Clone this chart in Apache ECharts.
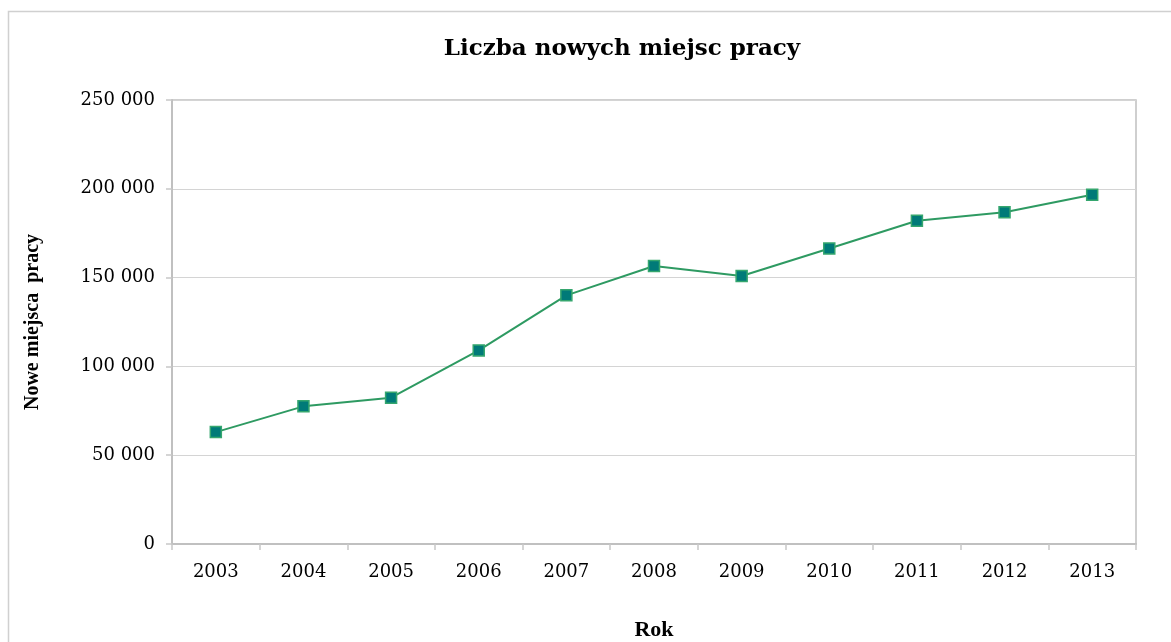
<!DOCTYPE html>
<html>
<head>
<meta charset="utf-8">
<script src="https://cdn.jsdelivr.net/npm/echarts@6/dist/echarts.min.js"></script>
<style>html,body{margin:0;padding:0;background:#fff;}#c{width:1171px;height:642px;}</style>
</head>
<body>
<div id="c"></div>
<script>
const years = ['2003','2004','2005','2006','2007','2008','2009','2010','2011','2012','2013'];
const jobs = [63000, 77500, 82400, 109000, 140000, 156500, 150900, 166400, 182000, 186800, 196600];
const yTicks = {min: 0, max: 250000, interval: 50000};

const chart = echarts.init(document.getElementById('c'));
const serif = '"DejaVu Serif", "Liberation Serif", serif';
const times = '"Liberation Serif", "DejaVu Serif", serif';
chart.setOption({
  animation: false,
  backgroundColor: '#fff',
  graphic: [{
    type: 'rect', silent: true,
    shape: {x: 8.5, y: 11.5, width: 1200, height: 700},
    style: {fill: 'none', stroke: '#d0d0d0', lineWidth: 1.5}
  }],
  title: {
    text: 'Liczba nowych miejsc pracy',
    left: 617, top: 33, textAlign: 'center',
    textStyle: {fontFamily: serif, fontSize: 23, fontWeight: 'bold', color: '#000'}
  },
  grid: {left: 172, right: 35, top: 100, bottom: 98, show: true, borderColor: '#c0c0c0', borderWidth: 1.5, containLabel: false, outerBoundsMode: 'none'},
  xAxis: {
    type: 'category', data: years, boundaryGap: true,
    name: 'Rok', nameLocation: 'middle', nameGap: 75,
    nameTextStyle: {fontFamily: times, fontSize: 22, fontWeight: 'bold', color: '#000'},
    axisLine: {lineStyle: {color: '#c0c0c0', width: 2}},
    axisTick: {show: true, length: 6, lineStyle: {color: '#c8c8c8', width: 1.5}},
    axisLabel: {fontFamily: serif, fontSize: 18, color: '#000', margin: 19}
  },
  yAxis: {
    type: 'value', min: yTicks.min, max: yTicks.max, interval: yTicks.interval,
    name: 'Nowe miejsca  pracy', nameLocation: 'middle', nameGap: 129, nameRotate: 90,
    nameTextStyle: {fontFamily: times, fontSize: 20, fontWeight: 'bold', color: '#000'},
    axisLine: {show: true, lineStyle: {color: '#c0c0c0', width: 2}},
    axisTick: {show: true, length: 6, lineStyle: {color: '#c8c8c8', width: 1.5}},
    splitLine: {lineStyle: {color: '#d4d4d4', width: 1}},
    axisLabel: {
      fontFamily: serif, fontSize: 18, color: '#000', margin: 17,
      formatter: v => String(v).replace(/\B(?=(\d{3})+(?!\d))/g, ' ')
    }
  },
  series: [{
    type: 'line', data: jobs,
    symbol: 'rect', symbolSize: 11,
    lineStyle: {color: '#2e9a62', width: 2},
    itemStyle: {color: '#007a78', borderColor: '#35a66e', borderWidth: 1.5}
  }]
});
</script>
</body>
</html>
